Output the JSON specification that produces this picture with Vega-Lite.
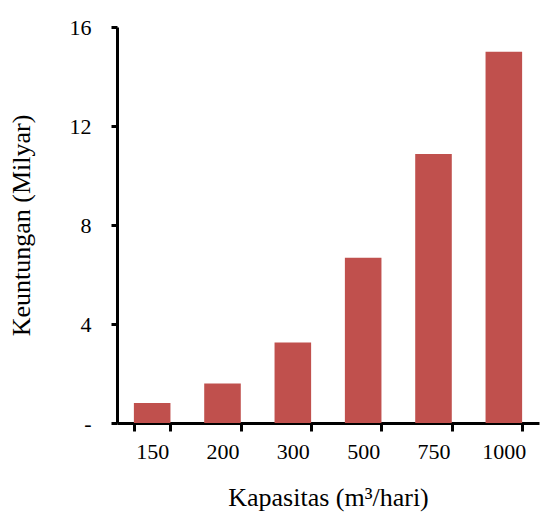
{
  "$schema": "https://vega.github.io/schema/vega-lite/v6.json",
  "autosize": "none",
  "width": 422,
  "height": 396,
  "padding": {"left": 117, "top": 27, "right": 2, "bottom": 90},
  "background": "white",
  "config": {"view": {"stroke": null}, "font": "Liberation Serif"},
  "data": {"values": [
    {"kapasitas": "150", "keuntungan": 0.81},
    {"kapasitas": "200", "keuntungan": 1.6},
    {"kapasitas": "300", "keuntungan": 3.25},
    {"kapasitas": "500", "keuntungan": 6.68},
    {"kapasitas": "750", "keuntungan": 10.87},
    {"kapasitas": "1000", "keuntungan": 15.0}
  ]},
  "mark": {"type": "bar", "color": "#C0504D"},
  "encoding": {
    "x": {
      "field": "kapasitas", "type": "ordinal", "sort": null,
      "scale": {"paddingInner": 0.48, "paddingOuter": 0.24},
      "axis": {
        "title": "Kapasitas (m³/hari)",
        "labelAngle": 0, "labelFont": "Liberation Serif", "labelFontSize": 22, "labelColor": "black",
        "labelPadding": 10, "tickBand": "extent", "tickSize": 8, "tickWidth": 3, "tickColor": "black",
        "domainColor": "black", "domainWidth": 3, "grid": false,
        "titleFont": "Liberation Serif", "titleFontSize": 26, "titleFontWeight": "normal", "titleColor": "black",
        "titlePadding": 22
      }
    },
    "y": {
      "field": "keuntungan", "type": "quantitative",
      "scale": {"domain": [0, 16], "nice": false},
      "axis": {
        "title": "Keuntungan (Milyar)", "values": [0, 4, 8, 12, 16],
        "labelExpr": "datum.value == 0 ? '-' : datum.label",
        "labelFont": "Liberation Serif", "labelFontSize": 22, "labelColor": "black",
        "labelPadding": 20, "tickSize": 6, "tickWidth": 3, "tickColor": "black",
        "domainColor": "black", "domainWidth": 3, "grid": false,
        "titleFont": "Liberation Serif", "titleFontSize": 26, "titleFontWeight": "normal", "titleColor": "black",
        "titlePadding": 35
      }
    }
  }
}
